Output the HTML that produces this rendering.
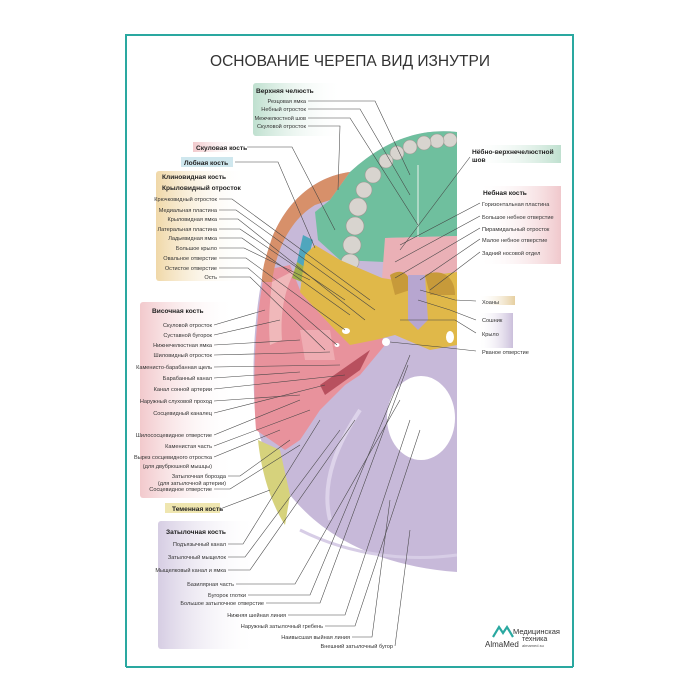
<!DOCTYPE html>
<html><head><meta charset="utf-8"><style>
html,body{margin:0;padding:0;background:#fff;}
svg{display:block;font-family:"Liberation Sans",sans-serif;}
.t{font-size:5.6px;fill:#333;}
.b{font-size:6.6px;font-weight:bold;fill:#222;}
.l{stroke:#444;stroke-width:0.55;fill:none;}
</style></head><body>
<svg width="700" height="700" viewBox="0 0 700 700" xmlns="http://www.w3.org/2000/svg">
<defs>
<linearGradient id="gG" x1="0" x2="1"><stop offset="0" stop-color="#bfe0cf"/><stop offset="1" stop-color="#fff" stop-opacity="0"/></linearGradient>
<linearGradient id="gT" x1="0" x2="1"><stop offset="0" stop-color="#f0d8a8"/><stop offset="1" stop-color="#fff" stop-opacity="0"/></linearGradient>
<linearGradient id="gP" x1="0" x2="1"><stop offset="0" stop-color="#f2c9cc"/><stop offset="1" stop-color="#fff" stop-opacity="0"/></linearGradient>
<linearGradient id="gV" x1="0" x2="1"><stop offset="0" stop-color="#d6cde3"/><stop offset="1" stop-color="#fff" stop-opacity="0"/></linearGradient>
<linearGradient id="gGr" x1="0" x2="1"><stop offset="0" stop-color="#fff" stop-opacity="0"/><stop offset="1" stop-color="#bfe0cf"/></linearGradient>
<linearGradient id="gPr" x1="0" x2="1"><stop offset="0" stop-color="#fff" stop-opacity="0"/><stop offset="1" stop-color="#f0c8cc"/></linearGradient>
<linearGradient id="gTr" x1="0" x2="1"><stop offset="0" stop-color="#fff" stop-opacity="0"/><stop offset="1" stop-color="#e6cfa0"/></linearGradient>
<linearGradient id="gVr" x1="0" x2="1"><stop offset="0" stop-color="#fff" stop-opacity="0"/><stop offset="1" stop-color="#cbbfdb"/></linearGradient>
</defs>
<path d="M126,667 L126,35 L573,35 L573,667" fill="none" stroke="#2aa8a0" stroke-width="2"/>
<line x1="126" y1="667" x2="573" y2="667" stroke="#2aa8a0" stroke-width="2"/>
<text x="350" y="66" text-anchor="middle" font-size="16" fill="#333" textLength="280" lengthAdjust="spacingAndGlyphs">ОСНОВАНИЕ ЧЕРЕПА ВИД ИЗНУТРИ</text>

<rect x="253" y="83" width="90" height="53" rx="3" fill="url(#gG)"/>
<rect x="193" y="142" width="52" height="10" fill="url(#gP)"/>
<rect x="181" y="157" width="52" height="10" style="fill:#cfe7ee"/>
<rect x="156" y="171" width="90" height="110" rx="3" fill="url(#gT)"/>
<rect x="140" y="302" width="95" height="196" rx="3" fill="url(#gP)"/>
<rect x="165" y="503" width="55" height="10" fill="#efe6b0"/>
<rect x="158" y="521" width="100" height="128" rx="3" fill="url(#gV)"/>
<rect x="470" y="145" width="91" height="18" fill="url(#gGr)"/>
<rect x="478" y="186" width="83" height="78" fill="url(#gPr)"/>
<rect x="478" y="296" width="37" height="9" fill="url(#gTr)"/>
<rect x="478" y="313" width="35" height="35" fill="url(#gVr)"/>

<path d="M457,132 C420,128 385,140 350,172 C318,176 288,198 272,238 C258,280 250,350 255,410 C262,480 320,562 457,572 Z" fill="#c7b9d9"/>
<path d="M258,440 C262,480 275,510 285,525 L290,495 L280,450 Z" fill="#d6d27c"/>
<path d="M265,270 C255,320 252,380 256,430 L285,450 L300,440 L320,410 L345,385 L360,375 L385,345 L380,330 L340,320 L300,290 L290,265 Z" fill="#e8929c"/>
<path d="M300,330 L330,330 L335,360 L305,360 Z" fill="#f0b3b8" opacity="0.8"/>
<path d="M320,385 L370,350 L360,370 L325,395 Z" fill="#b8505e"/>
<path d="M350,172 C318,176 288,198 272,238 C266,256 262,268 262,282 L272,282 C276,250 290,220 315,205 L330,200 Z" fill="#d7906a"/>
<path d="M272,282 C270,300 268,320 270,345 L282,340 C280,310 285,290 295,270 Z" fill="#f0b8ba"/>
<path d="M303,235 L313,240 L306,268 L297,262 Z" fill="#4fa6bd"/>
<path d="M297,262 L306,268 L302,282 L292,278 Z" fill="#9fae4a"/>
<path d="M457,132 C420,128 385,140 350,172 L330,200 L315,212 L318,240 L340,260 L385,262 L385,238 L457,236 Z" fill="#6fbf9e"/>
<g fill="#d8d4cf" stroke="#9c9892" stroke-width="0.6">
<ellipse cx="450" cy="140" rx="7" ry="7"/><ellipse cx="437" cy="141" rx="7" ry="7"/><ellipse cx="424" cy="143" rx="7" ry="7"/>
<ellipse cx="410" cy="147" rx="7" ry="7"/><ellipse cx="397" cy="153" rx="7" ry="7"/><ellipse cx="386" cy="161" rx="7" ry="7"/>
<ellipse cx="373" cy="175" rx="8" ry="8"/><ellipse cx="364" cy="190" rx="8" ry="8"/><ellipse cx="358" cy="207" rx="9" ry="9"/>
<ellipse cx="355" cy="226" rx="9" ry="9"/><ellipse cx="352" cy="245" rx="9" ry="9"/><ellipse cx="350" cy="262" rx="9" ry="8"/>
</g>
<line x1="418" y1="165" x2="418" y2="270" stroke="#e8f2ec" stroke-width="1"/>
<path d="M385,238 L457,236 L457,272 L430,275 L395,280 L382,278 Z" fill="#eab0b6"/>
<path d="M315,245 L340,260 L382,278 L395,280 L457,272 L457,345 L430,350 L395,335 L375,340 L350,345 L335,330 L300,292 L305,255 Z" fill="#e0b849"/>
<path d="M390,275 C400,268 412,272 410,290 L395,295 Z" fill="#c79a3a"/>
<path d="M425,275 C440,268 455,275 455,295 L430,295 Z" fill="#c79a3a"/>
<path d="M408,275 L425,275 L428,320 L418,330 L408,320 Z" fill="#b7a6d0"/>
<ellipse cx="346" cy="331" rx="4" ry="3" fill="#fff"/>
<ellipse cx="337" cy="345" rx="2.5" ry="2" fill="#fff"/>
<ellipse cx="386" cy="342" rx="4" ry="4" fill="#fff"/>
<ellipse cx="450" cy="337" rx="4" ry="6" fill="#fff"/>
<path d="M360,410 C340,440 320,480 330,520" stroke="#ddd3ea" stroke-width="4" fill="none"/>
<path d="M300,530 C360,560 420,560 457,555" stroke="#d7cde6" stroke-width="3" fill="none"/>
<ellipse cx="421" cy="418" rx="34" ry="42" fill="#fff"/>
<rect x="457" y="120" width="20" height="460" fill="#fff"/>

<g class="l">
<path d="M308,101 L375,101 L410,175"/><path d="M308,109 L360,109 L410,195"/><path d="M308,118 L350,118 L418,225"/><path d="M308,126 L340,126 L338,190"/>
<path d="M247,147 L292,147 L335,230"/><path d="M235,162 L278,162 L315,248"/>
<path d="M219,199 L232,199 L370,300"/><path d="M219,210 L236,210 L375,310"/><path d="M219,219 L238,219 L365,320"/>
<path d="M219,229 L240,229 L345,300"/><path d="M219,238 L242,238 L350,315"/><path d="M219,248 L244,248 L310,280"/>
<path d="M219,258 L246,258 L345,330"/><path d="M219,268 L248,268 L337,345"/><path d="M219,277 L250,277 L325,350"/>
<path d="M214,325 L265,310"/><path d="M214,335 L280,320"/><path d="M214,345 L300,340"/><path d="M214,355 L330,352"/>
<path d="M214,367 L340,365"/><path d="M214,378 L300,372"/><path d="M214,389 L345,375"/><path d="M214,401 L300,395"/>
<path d="M214,413 L325,385"/><path d="M214,435 L300,400"/><path d="M214,446 L310,410"/><path d="M214,457 L280,430"/>
<path d="M228,476 L240,476 L290,440"/><path d="M214,489 L230,489 L300,445"/>
<path d="M220,509 L270,490"/>
<path d="M228,544 L243,544 L320,420"/><path d="M228,557 L245,557 L340,430"/><path d="M228,570 L250,570 L355,420"/>
<path d="M236,584 L295,584 L400,400"/><path d="M248,595 L310,595 L410,355"/><path d="M266,603 L320,603 L408,365"/>
<path d="M288,615 L345,615 L410,420"/><path d="M325,626 L355,626 L420,430"/><path d="M352,637 L372,637 L390,500"/>
<path d="M395,646 L410,530"/>
<path d="M470,157 L400,250"/>
<path d="M480,203 L400,245"/><path d="M480,216 L395,262"/><path d="M480,228 L395,278"/><path d="M480,239 L420,280"/><path d="M480,252 L430,290"/>
<path d="M476,301 L455,300 L420,290"/><path d="M476,320 L450,310 L418,300"/><path d="M476,333 L455,320 L400,320"/><path d="M476,351 L440,347 L390,342"/>
</g>

<text class="b" x="256" y="93">Верхняя челюсть</text>
<g class="t" text-anchor="end">
<text x="306" y="103">Резцовая ямка</text><text x="306" y="111">Небный отросток</text><text x="306" y="120">Межчелюстной шов</text><text x="306" y="128">Скуловой отросток</text>
</g>
<text class="b" x="196" y="150">Скуловая кость</text>
<text class="b" x="184" y="165">Лобная кость</text>
<text class="b" x="162" y="179">Клиновидная кость</text>
<text class="b" x="162" y="190">Крыловидный отросток</text>
<g class="t" text-anchor="end">
<text x="217" y="201">Крючковидный отросток</text><text x="217" y="212">Медиальная пластина</text><text x="217" y="221">Крыловидная ямка</text>
<text x="217" y="231">Латеральная пластина</text><text x="217" y="240">Ладьевидная ямка</text><text x="217" y="250">Большое крыло</text>
<text x="217" y="260">Овальное отверстие</text><text x="217" y="270">Остистое отверстие</text><text x="217" y="279">Ость</text>
</g>
<text class="b" x="152" y="313">Височная кость</text>
<g class="t" text-anchor="end">
<text x="212" y="327">Скуловой отросток</text><text x="212" y="337">Суставной бугорок</text><text x="212" y="347">Нижнечелюстная ямка</text>
<text x="212" y="357">Шиловидный отросток</text><text x="212" y="369">Каменисто-барабанная щель</text><text x="212" y="380">Барабанный канал</text>
<text x="212" y="391">Канал сонной артерии</text><text x="212" y="403">Наружный слуховой проход</text><text x="212" y="415">Сосцевидный каналец</text>
<text x="212" y="437">Шилососцевидное отверстие</text><text x="212" y="448">Каменистая часть</text><text x="212" y="459">Вырез сосцевидного отростка</text>
<text x="212" y="468">(для двубрюшной мышцы)</text><text x="226" y="478">Затылочная борозда</text><text x="226" y="485">(для затылочной артерии)</text>
<text x="212" y="491">Сосцевидное отверстие</text>
</g>
<text class="b" x="172" y="511">Теменная кость</text>
<text class="b" x="166" y="534">Затылочная кость</text>
<g class="t" text-anchor="end">
<text x="226" y="546">Подъязычный канал</text><text x="226" y="559">Затылочный мыщелок</text><text x="226" y="572">Мыщелковый канал и ямка</text>
<text x="234" y="586">Базилярная часть</text><text x="246" y="597">Бугорок глотки</text><text x="264" y="605">Большое затылочное отверстие</text>
<text x="286" y="617">Нижняя шейная линия</text><text x="323" y="628">Наружный затылочный гребень</text><text x="350" y="639">Наивысшая выйная линия</text>
<text x="393" y="648">Внешний затылочный бугор</text>
</g>
<text class="b" x="472" y="154">Нёбно-верхнечелюстной</text>
<text class="b" x="472" y="162">шов</text>
<text class="b" x="483" y="195">Небная кость</text>
<g class="t">
<text x="482" y="206">Горизонтальная пластина</text><text x="482" y="219">Большое небное отверстие</text><text x="482" y="231">Пирамидальный отросток</text>
<text x="482" y="242">Малое небное отверстие</text><text x="482" y="255">Задний носовой отдел</text>
<text x="482" y="304">Хоаны</text><text x="482" y="322">Сошник</text><text x="482" y="336">Крыло</text><text x="482" y="354">Рваное отверстие</text>
</g>
<path d="M493,637 L499,627 L503,633 L507,627 L513,637" fill="none" stroke="#2aa8a0" stroke-width="2.2"/>
<text x="513" y="634" font-size="7.5" fill="#333">Медицинская</text>
<text x="522" y="641" font-size="7" fill="#333">техника</text>
<text x="522" y="647" font-size="4" fill="#555">almamed.su</text>
<text x="485" y="647" font-size="8" fill="#333">AlmaMed</text>
</svg>
</body></html>
